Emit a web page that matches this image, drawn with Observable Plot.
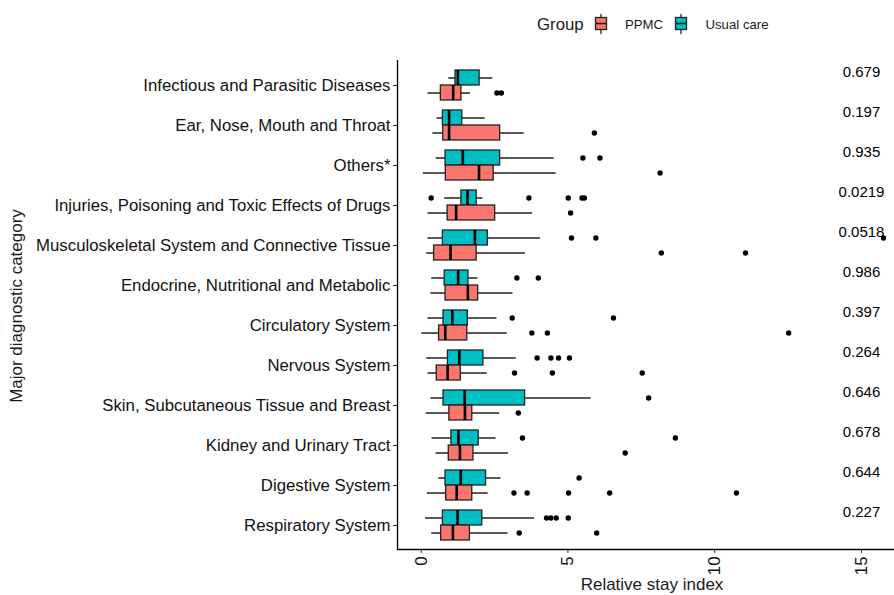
<!DOCTYPE html>
<html>
<head>
<meta charset="utf-8">
<script src="https://cdn.jsdelivr.net/npm/d3@7"></script>
<script src="https://cdn.jsdelivr.net/npm/@observablehq/plot@0.6"></script>
<style>
  body { margin: 0; background: #fff; font-family: "Liberation Sans", Arial, sans-serif; }
  #wrap { position: relative; width: 894px; height: 595px; overflow: hidden; background: #fff; }
  #legend { position: absolute; left: 0; top: 0; width: 894px; height: 50px; }
  #legend .t { position: absolute; white-space: nowrap; color: #1a1a1a; }
  #chart { position: absolute; left: 0; top: 50px; }
  #ytitle { position: absolute; left: 17px; top: 306px; transform: translate(-50%, -50%) rotate(-90deg); font-size: 17px; white-space: nowrap; color: #1a1a1a; }
  #xtitle { position: absolute; left: 652px; top: 585px; transform: translate(-50%, -50%); font-size: 17px; white-space: nowrap; color: #1a1a1a; }
</style>
</head>
<body>
<div id="wrap">
  <div id="legend"></div>
  <div id="chart"></div>
  <div id="ytitle">Major diagnostic category</div>
  <div id="xtitle">Relative stay index</div>
</div>
<script>
// ---- data ----
const categories = [
  "Infectious and Parasitic Diseases",
  "Ear, Nose, Mouth and Throat",
  "Others*",
  "Injuries, Poisoning and Toxic Effects of Drugs",
  "Musculoskeletal System and Connective Tissue",
  "Endocrine, Nutritional and Metabolic",
  "Circulatory System",
  "Nervous System",
  "Skin, Subcutaneous Tissue and Breast",
  "Kidney and Urinary Tract",
  "Digestive System",
  "Respiratory System"
];
const groups = ["PPMC", "Usual care"];
const pValues = ["0.679","0.197","0.935","0.0219","0.0518","0.986","0.397","0.264","0.646","0.678","0.644","0.227"];

const usualLow  = [0.94,0.54,0.51,0.80,0.23,0.36,0.23,0.19,0.33,0.37,0.60,0.15];
const usualQ1   = [1.17,0.74,0.83,1.37,0.74,0.80,0.76,0.91,0.76,1.03,0.83,0.74];
const usualMed  = [1.25,0.95,1.42,1.58,1.83,1.26,1.06,1.30,1.48,1.27,1.35,1.24];
const usualQ3   = [1.99,1.40,2.69,1.89,2.27,1.61,1.59,2.12,3.54,1.96,2.21,2.08];
const usualHigh = [2.44,2.18,4.53,2.10,4.06,1.93,2.58,3.24,5.79,2.55,2.72,3.86];
const usualOut  = [[],[],[5.51,6.09],[0.34,3.67,5.01,5.48,5.56],[5.12,5.95,15.75],[3.26,3.99],[3.10,6.55],[3.95,4.42,4.68,5.05],[7.75],[3.45,8.66],[5.38],[4.27,4.42,4.60,5.01]];

const ppmcLow  = [0.23,0.40,0.07,0.23,0.19,0.33,0.02,0.23,0.17,0.51,0.21,0.36];
const ppmcQ1   = [0.67,0.75,0.84,0.90,0.44,0.83,0.61,0.53,0.96,0.94,0.85,0.68];
const ppmcMed  = [1.09,0.95,1.97,1.19,1.00,1.59,0.82,0.90,1.49,1.32,1.21,1.08];
const ppmcQ3   = [1.37,2.69,2.47,2.52,1.89,1.94,1.57,1.35,1.74,1.78,1.74,1.66];
const ppmcHigh = [1.68,3.51,4.60,3.79,3.55,3.13,2.93,2.25,2.67,2.97,2.28,2.96];
const ppmcOut  = [[2.58,2.73],[5.90],[8.14],[5.09],[8.18,11.05],[],[3.77,4.30,12.52],[3.18,4.47,7.53],[3.31],[6.95],[3.16,3.61,5.02,6.42,10.74],[3.34,5.98]];

const xTicks = [0, 5, 10, 15];
const colors = {"PPMC": "#F8766D", "Usual care": "#00BFC4"};

// ---- tables built from the arrays ----
const usualRows = categories.map((c, i) => ({cat: c, group: "Usual care", low: usualLow[i], q1: usualQ1[i], med: usualMed[i], q3: usualQ3[i], high: usualHigh[i]}));
const ppmcRows  = categories.map((c, i) => ({cat: c, group: "PPMC", low: ppmcLow[i], q1: ppmcQ1[i], med: ppmcMed[i], q3: ppmcQ3[i], high: ppmcHigh[i]}));
const usualOutRows = categories.flatMap((c, i) => usualOut[i].map(v => ({cat: c, v})));
const ppmcOutRows  = categories.flatMap((c, i) => ppmcOut[i].map(v => ({cat: c, v})));
const pRows = categories.map((c, i) => ({cat: c, p: pValues[i]}));

const lineCol = "#222222";
const half = 7.5;

function boxMarks(rows, outRows, dy, insetTop, insetBottom) {
  return [
    Plot.ruleY(rows, {y: "cat", x1: "low", x2: "high", dy, stroke: lineCol, strokeWidth: 1.3}),
    Plot.barX(rows, {y: "cat", x1: "q1", x2: "q3", fill: d => colors[d.group], stroke: lineCol, strokeWidth: 1.3, insetTop, insetBottom}),
    Plot.tickX(rows, {y: "cat", x: "med", stroke: "#000", strokeWidth: 2.6, insetTop, insetBottom}),
    Plot.dot(outRows, {y: "cat", x: "v", dy, r: 2.7, fill: "#000", stroke: null})
  ];
}

const xMin = -0.807, xMax = 16.125;

const chart = Plot.plot({
  width: 894,
  height: 545,
  marginTop: 10,
  marginBottom: 46,
  marginLeft: 397,
  marginRight: 0,
  style: {fontFamily: "Liberation Sans, Arial, sans-serif", background: "transparent"},
  x: {domain: [xMin, xMax]},
  y: {domain: categories, type: "band", paddingInner: 0, paddingOuter: 0.0875},
  marks: [
    ...boxMarks(usualRows, usualOutRows, -half, 5, 20),
    ...boxMarks(ppmcRows, ppmcOutRows, half, 20, 5),
    Plot.text(pRows, {y: "cat", x: 15, text: "p", dy: -13, fontSize: 15, fill: "#000", textAnchor: "middle"}),
    Plot.axisY({tickSize: 4, tickPadding: 3, fontSize: 16.8, label: null, color: "#111", stroke: "#333"}),
    Plot.axisX({ticks: xTicks, tickSize: 4, tickPadding: 3, tickRotate: -90, fontSize: 16.8, label: null, color: "#111", stroke: "#333", tickFormat: d => String(d)}),
    Plot.ruleX([xMin], {stroke: "#000", strokeWidth: 1.3}),
    Plot.frame({anchor: "bottom", stroke: "#000", strokeWidth: 1.3})
  ]
});
document.getElementById("chart").appendChild(chart);

// ---- legend ----
const legend = document.getElementById("legend");
function addText(txt, left, size) {
  const s = document.createElement("div");
  s.className = "t";
  s.textContent = txt;
  s.style.left = left + "px";
  s.style.fontSize = size + "px";
  s.style.top = (25 - size * 0.58) + "px";
  legend.appendChild(s);
}
function addKey(group, left) {
  const ns = "http://www.w3.org/2000/svg";
  const svg = document.createElementNS(ns, "svg");
  svg.setAttribute("width", 14); svg.setAttribute("height", 22);
  svg.style.position = "absolute"; svg.style.left = (left - 1.5) + "px"; svg.style.top = "13px";
  svg.innerHTML = `<line x1="7" x2="7" y1="1" y2="21" stroke="${lineCol}" stroke-width="1.3"/>
    <rect x="1.5" y="4.5" width="11" height="12" fill="${colors[group]}" stroke="${lineCol}" stroke-width="1.3"/>
    <line x1="1.5" x2="12.5" y1="10.5" y2="10.5" stroke="${lineCol}" stroke-width="1.6"/>`;
  legend.appendChild(svg);
}
addText("Group", 537, 16.8);
addKey("PPMC", 595);
addText(groups[0], 625, 13.2);
addKey("Usual care", 675);
addText(groups[1], 705.5, 13.2);
</script>
</body>
</html>
